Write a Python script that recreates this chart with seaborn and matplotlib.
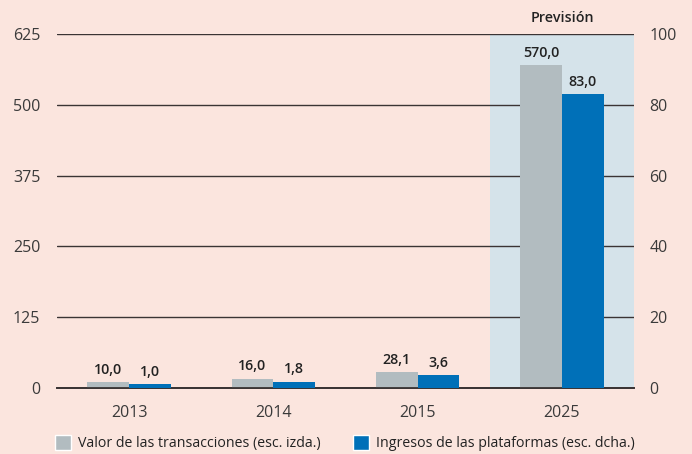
import matplotlib
matplotlib.use("Agg")
import matplotlib.pyplot as plt
from matplotlib.patches import Patch
import numpy as np
import pandas as pd
import seaborn as sns

# Datos del gráfico
anios = ["2013", "2014", "2015", "2025"]
valor_transacciones = [10.0, 16.0, 28.1, 570.0]  # esc. izda.
ingresos_plataformas = [1.0, 1.8, 3.6, 83.0]     # esc. dcha.
serie_izq = "Valor de las transacciones (esc. izda.)"
serie_dcha = "Ingresos de las plataformas (esc. dcha.)"

fondo = "#fbe5de"
gris = "#b2bcc0"
azul = "#0070b8"
sombra = "#d5e3ea"
texto = "#3a3a3a"
linea = "#3a3434"

sns.set_style("white")
plt.rcParams["font.family"] = ["Open Sans", "DejaVu Sans"]

# Tabla larga: cada serie solo tiene valor en su propio eje
df = pd.DataFrame({
    "anio": anios * 2,
    "serie": [serie_izq] * 4 + [serie_dcha] * 4,
})
df["izq"] = valor_transacciones + [np.nan] * 4
df["dcha"] = [np.nan] * 4 + ingresos_plataformas

fig = plt.figure(figsize=(6.92, 4.54), dpi=100, facecolor=fondo)
ax1 = fig.add_axes([57 / 692, 66 / 454, 577 / 692, 354 / 454])
ax1.set_facecolor(fondo)
ax2 = ax1.twinx()

paleta = {serie_izq: gris, serie_dcha: azul}
orden = [serie_izq, serie_dcha]
sns.barplot(data=df, x="anio", y="izq", hue="serie", hue_order=orden, palette=paleta,
            order=anios, width=0.58, errorbar=None, saturation=1, legend=False, ax=ax1,
            zorder=3, linewidth=0)
sns.barplot(data=df, x="anio", y="dcha", hue="serie", hue_order=orden, palette=paleta,
            order=anios, width=0.58, errorbar=None, saturation=1, legend=False, ax=ax2,
            zorder=3, linewidth=0)

# Zona de previsión
ax1.axvspan(2.5, 3.5, color=sombra, zorder=0, lw=0)
ax1.text(3, 1.025, "Previsión", transform=ax1.get_xaxis_transform(), ha="center", va="bottom",
         fontsize=10.3, fontweight="semibold", color="#222222")

ax1.set_xlim(-0.5, 3.5)
ax1.set_ylim(0, 625)
ax2.set_ylim(0, 100)
ax1.set_yticks(np.arange(0, 626, 125))
ax2.set_yticks(np.arange(0, 101, 20))
for y in np.arange(125, 626, 125):
    ax1.axhline(y, color=linea, lw=1.0, zorder=1)

# Etiquetas de datos
for ax in (ax1, ax2):
    for cont in ax.containers:
        for rect in cont:
            h = rect.get_height()
            if np.isfinite(h):
                ax.annotate(f"{h:.1f}".replace(".", ","), (rect.get_x() + rect.get_width() / 2, h),
                            xytext=(0, 4), textcoords="offset points", ha="center", va="bottom",
                            fontsize=10.3, fontweight="semibold", color="#222222")

for ax in (ax1, ax2):
    ax.set_xlabel("")
    ax.set_ylabel("")
    for s in ("top", "left", "right"):
        ax.spines[s].set_visible(False)
    ax.spines["bottom"].set_color(linea)
    ax.spines["bottom"].set_linewidth(1.3)
    ax.tick_params(axis="y", length=0, labelsize=11.5, labelcolor=texto)

ax1.tick_params(axis="y", pad=12)
ax2.tick_params(axis="y", pad=11)
ax1.tick_params(axis="x", which="major", length=0, labelsize=11.5, labelcolor=texto, pad=12)
ax1.set_xticks([-0.5, 0.5, 1.5, 2.5, 3.5], minor=True)
ax1.tick_params(axis="x", which="minor", direction="in", length=5, width=1.1, color=linea)
ax2.tick_params(axis="x", length=0)

# Leyenda
manejadores = [Patch(facecolor=gris, label=serie_izq), Patch(facecolor=azul, label=serie_dcha)]
fig.legend(handles=manejadores, loc="lower left", bbox_to_anchor=(55 / 692, 0.006), ncol=2,
           frameon=False, fontsize=10.2, handlelength=1.15, handleheight=1.3, handletextpad=0.45,
           columnspacing=2.3, borderpad=0, borderaxespad=0, labelcolor="#222222")

fig.savefig("out.png", dpi=100, facecolor=fondo)
